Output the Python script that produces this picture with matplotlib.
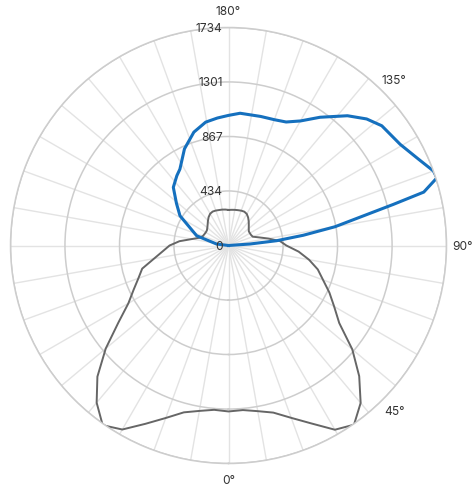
import numpy as np
import matplotlib
matplotlib.use("Agg")
import matplotlib.pyplot as plt
from matplotlib.transforms import offset_copy

plt.rcParams['font.family'] = ['Inter', 'DejaVu Sans']

# ------------------------
# Data (angles in degrees, 0 at bottom, counter-clockwise)
gray_angles = list(range(-180, 185, 5))
gray_values = [
    283, 287, 290, 292, 296, 298, 292, 276, 255, 235, 220, 210, 209, 212, 218,
    239, 296, 392, 469, 525, 602, 711, 763, 833, 920, 1070, 1275, 1475, 1632,
    1745, 1690, 1565, 1460, 1374, 1336, 1312,
    1320,
    1314, 1338, 1376, 1459, 1562, 1692, 1740, 1635, 1470, 1285, 1075, 970, 885,
    800, 735, 650, 560, 460, 410, 320, 250, 205, 198, 196, 197, 210, 228, 250,
    272, 290, 297, 295, 291, 288, 285, 283,
]

blue_angles = [90, 94, 95.7, 97.8, 100, 104, 105.3, 108, 110, 114.5, 120.5, 128,
               132.5, 137.5, 144.5, 150, 155, 160, 166, 175, 180, 185, 190.5,
               197, 204.5, 212.5, 216.5, 223.5, 231, 238.5, 253, 263, 270]
blue_values = [0, 171, 385, 600, 860, 1350, 1610, 1743, 1734, 1659, 1585, 1547,
               1490, 1400, 1253, 1144, 1084, 1065, 1058, 1056, 1035, 1018, 998,
               943, 845, 720, 691, 638, 533, 453, 265, 95, 0]

r_ticks = [0, 434, 867, 1301, 1734]
theta_labels = [0, 45, 90, 135, 180]

# ------------------------
fig = plt.figure(figsize=(4.76, 4.89), dpi=100)
ax = fig.add_axes([0.0221, 0.0501, 0.916, 0.8916], projection='polar')
ax.set_theta_zero_location('S')
ax.set_theta_direction(1)
ax.set_ylim(0, r_ticks[-1])

ax.set_xticks(np.radians(np.arange(0, 360, 10)))
ax.set_xticklabels([])
ax.set_yticks(r_ticks[1:])
ax.set_yticklabels([])
ax.tick_params(length=0)
ax.xaxis.grid(True, color='#e3e3e3', lw=1.0)
ax.yaxis.grid(True, color='#cdcdcd', lw=1.1)
ax.spines['polar'].set_color('#cdcdcd')
ax.spines['polar'].set_linewidth(1.1)

ax.plot(np.radians(gray_angles), gray_values, color='#666666', lw=1.4)
ax.plot(np.radians(blue_angles), blue_values, color='#1570be', lw=2.2)

# radial labels along the top spoke
trans = offset_copy(ax.transData, fig=fig, x=-6, y=0, units='dots')
for v in r_ticks:
    ax.text(np.pi, v, str(v), transform=trans, ha='right', va='center',
            fontsize=8.6, color='#333333')

for a in theta_labels:
    ax.text(np.radians(a), r_ticks[-1] * 1.075, f"{a}°", ha='center',
            va='center', fontsize=8.6, color='#333333')

plt.savefig("out.png", dpi=100)
